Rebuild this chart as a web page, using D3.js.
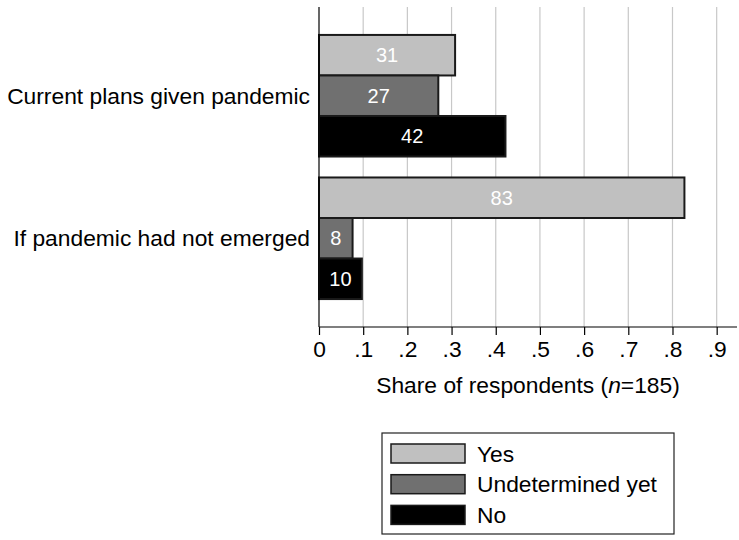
<!DOCTYPE html>
<html>
<head>
<meta charset="utf-8">
<script src="https://cdn.jsdelivr.net/npm/d3@7"></script>
<style>
  body { margin: 0; background: #fff; }
  text { font-family: "Liberation Sans", Arial, sans-serif; }
</style>
</head>
<body>
<div id="chart"></div>
<script>
// Categories and series
const groups = ["Current plans given pandemic", "If pandemic had not emerged"];
const series = ["Yes", "Undetermined yet", "No"];
// Share of respondents per group, in series order
const currentShares = [0.308, 0.270, 0.422];
const noPandemicShares = [0.827, 0.076, 0.097];
const xTicks = [0, 0.1, 0.2, 0.3, 0.4, 0.5, 0.6, 0.7, 0.8, 0.9];
const colors = ["#c0c0c0", "#707070", "#000000"];

const width = 739;
const height = 540;
const margin = {top: 7, left: 319, right: 2, bottom: 213};

const svg = d3.select("#chart")
    .append("svg")
        .attr("width", width)
        .attr("height", height);

const data = groups.map((g, i) => ({
    group: g,
    values: [currentShares, noPandemicShares][i].map((v, j) => ({key: series[j], value: v}))
}));

const x = d3.scaleLinear()
    .domain([0, 0.946])
    .range([margin.left, width - margin.right]);

const y0 = d3.scaleBand()
    .domain(groups)
    .range([margin.top, height - margin.bottom])
    .paddingInner(0.147)
    .paddingOuter(0.196);

const y1 = d3.scaleBand()
    .domain(series)
    .range([0, y0.bandwidth()]);

const color = d3.scaleOrdinal().domain(series).range(colors);

// grid lines
svg.append("g")
    .selectAll("line")
    .data(xTicks.slice(1))
    .join("line")
        .attr("x1", d => x(d))
        .attr("x2", d => x(d))
        .attr("y1", margin.top)
        .attr("y2", height - margin.bottom)
        .attr("stroke", "#c8c8c8")
        .attr("stroke-width", 1.2);

// bars
const groupG = svg.append("g")
    .selectAll("g")
    .data(data)
    .join("g")
        .attr("transform", d => `translate(0,${y0(d.group)})`);

groupG.selectAll("rect")
    .data(d => d.values)
    .join("rect")
        .attr("x", x(0))
        .attr("y", d => y1(d.key))
        .attr("width", d => x(d.value) - x(0))
        .attr("height", y1.bandwidth())
        .attr("fill", d => color(d.key))
        .attr("stroke", "#1a1a1a")
        .attr("stroke-width", 2);

groupG.selectAll("text")
    .data(d => d.values)
    .join("text")
        .attr("x", d => (x(0) + x(d.value)) / 2)
        .attr("y", d => y1(d.key) + y1.bandwidth() / 2)
        .attr("dy", "0.36em")
        .attr("text-anchor", "middle")
        .attr("fill", "#fff")
        .style("font-size", "20px")
        .text(d => Math.round(d.value * 100));

// x axis
const xAxis = svg.append("g")
    .attr("transform", `translate(0,${height - margin.bottom})`)
    .call(d3.axisBottom(x)
        .tickValues(xTicks)
        .tickSize(8)
        .tickPadding(6)
        .tickFormat(d => d === 0 ? "0" : d3.format(".1f")(d).replace(/^0/, "")));

xAxis.select(".domain").attr("stroke", "#000").attr("stroke-width", 1.2).attr("d", `M${x(0)},0H${width - margin.right}`);
xAxis.selectAll(".tick line").attr("stroke", "#000").attr("stroke-width", 1.2);
xAxis.selectAll(".tick text")
    .attr("fill", "#000")
    .style("font-size", "22.8px")
    .style("font-family", "'Liberation Sans', Arial, sans-serif");

// y axis line and category labels
svg.append("line")
    .attr("x1", x(0))
    .attr("x2", x(0))
    .attr("y1", margin.top)
    .attr("y2", height - margin.bottom)
    .attr("stroke", "#000")
    .attr("stroke-width", 1.2);

svg.append("g")
    .selectAll("text")
    .data(groups)
    .join("text")
        .attr("x", x(0) - 9)
        .attr("y", d => y0(d) + y0.bandwidth() / 2)
        .attr("dy", "0.36em")
        .attr("text-anchor", "end")
        .style("font-size", "22.8px")
        .text(d => d);

// axis title
const title = svg.append("text")
    .attr("x", (x(0) + width - margin.right) / 2)
    .attr("y", 393)
    .attr("text-anchor", "middle")
    .style("font-size", "22.8px");
title.append("tspan").text("Share of respondents (");
title.append("tspan").style("font-style", "italic").text("n");
title.append("tspan").text("=185)");

// legend
const legend = svg.append("g").attr("transform", "translate(382,433)");
legend.append("rect")
    .attr("width", 292)
    .attr("height", 101)
    .attr("fill", "#fff")
    .attr("stroke", "#222")
    .attr("stroke-width", 1.2);

const item = legend.selectAll("g.item")
    .data(series)
    .join("g")
        .attr("class", "item")
        .attr("transform", (d, i) => `translate(9,${11 + i * 30.7})`);

item.append("rect")
    .attr("width", 74)
    .attr("height", 19)
    .attr("fill", d => color(d))
    .attr("stroke", "#1a1a1a")
    .attr("stroke-width", 1.5);

item.append("text")
    .attr("x", 86)
    .attr("y", 9.5)
    .attr("dy", "0.36em")
    .style("font-size", "22.8px")
    .text(d => d);
</script>
</body>
</html>
